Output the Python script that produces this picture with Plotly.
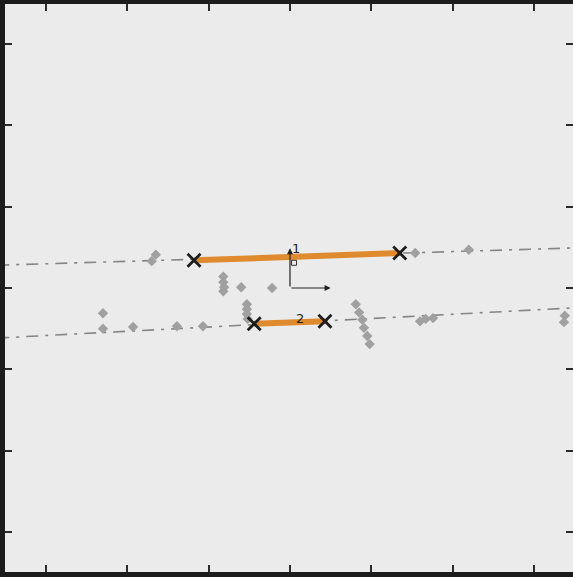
import plotly.graph_objects as go

# ---- data (axis units) ----
tick_vals = [-3, -2, -1, 0, 1, 2, 3]

line_a_x = [-3.6, 3.6]
line_a_y = [0.280, 0.496]
line_b_x = [-3.6, 3.6]
line_b_y = [-0.616, -0.239]

seg1_x = [-1.18, 1.35]
seg1_y = [0.34, 0.43]
seg2_x = [-0.44, 0.43]
seg2_y = [-0.44, -0.41]

pts_x = [-1.70, -1.65, -0.82, -0.82, -0.81, -0.82, -0.60, -0.22,
         -0.53, -0.53, -0.53, -0.52, -2.30, -2.30, -1.93, -1.39, -1.07,
         1.54, 2.20, 0.81, 0.85, 0.89, 0.91, 0.95, 0.98,
         1.60, 1.67, 1.76, 3.38, 3.37]
pts_y = [0.33, 0.41, 0.14, 0.07, 0.01, -0.04, 0.01, 0.00,
         -0.20, -0.26, -0.32, -0.38, -0.31, -0.50, -0.48, -0.47, -0.47,
         0.43, 0.47, -0.20, -0.30, -0.39, -0.49, -0.59, -0.69,
         -0.41, -0.38, -0.37, -0.34, -0.42]

seg_labels = ["1", "2"]
label_x = [0.07, 0.12]
label_y = [0.48, -0.37]

frame_origin = (0.0, 0.0)
frame_x_tip = (0.50, 0.0)
frame_y_tip = (0.0, 0.49)

x_range = [-3.505, 3.481]
y_range = [-3.493, 3.493]

# ---- figure ----
fig = go.Figure()

dash_style = "12px,7px,3px,7px"
for lx, ly in [(line_a_x, line_a_y), (line_b_x, line_b_y)]:
    fig.add_trace(go.Scatter(x=lx, y=ly, mode="lines",
                             line=dict(color="#858585", width=1.6, dash=dash_style),
                             hoverinfo="skip", showlegend=False))

fig.add_trace(go.Scatter(x=pts_x, y=pts_y, mode="markers",
                         marker=dict(symbol="diamond", size=8, color="#a0a0a0"),
                         showlegend=False))

for sx, sy in [(seg1_x, seg1_y), (seg2_x, seg2_y)]:
    fig.add_trace(go.Scatter(x=sx, y=sy, mode="lines",
                             line=dict(color="#df8a2c", width=6),
                             showlegend=False))
    fig.add_trace(go.Scatter(x=sx, y=sy, mode="markers",
                             marker=dict(symbol="x-thin", size=13,
                                         line=dict(color="#1c1c1c", width=2.8)),
                             showlegend=False))

# small square near frame
fig.add_trace(go.Scatter(x=[0.05], y=[0.31], mode="markers",
                         marker=dict(symbol="square-open", size=5, color="#333333",
                                     line=dict(color="#333333", width=1)),
                         showlegend=False))

for tip in [frame_x_tip, frame_y_tip]:
    fig.add_annotation(x=tip[0], y=tip[1], ax=frame_origin[0], ay=frame_origin[1],
                       xref="x", yref="y", axref="x", ayref="y",
                       showarrow=True, arrowhead=2, arrowsize=1, arrowwidth=1.2,
                       arrowcolor="#222222", text="")

for t, tx, ty in zip(seg_labels, label_x, label_y):
    fig.add_annotation(x=tx, y=ty, text=t, showarrow=False, xref="x", yref="y",
                       font=dict(size=13, color="#222222", family="DejaVu Sans"))

axis_common = dict(showgrid=False, zeroline=False, showticklabels=False,
                   ticks="inside", ticklen=7, tickwidth=1.5, tickcolor="#2a2a2a",
                   tickvals=tick_vals, showline=True, linecolor="#1c1c1c",
                   linewidth=1, mirror="ticks")

fig.update_layout(
    width=573, height=577,
    margin=dict(l=5, r=0, t=4, b=5, pad=0),
    paper_bgcolor="#1c1c1c",
    plot_bgcolor="#ebebeb",
    xaxis=dict(range=x_range, **axis_common),
    yaxis=dict(range=y_range, **axis_common),
    showlegend=False,
)

fig.write_html("out.html", config={"displayModeBar": False},
               post_script="document.body.style.margin='0px';document.body.style.overflow='hidden';")
